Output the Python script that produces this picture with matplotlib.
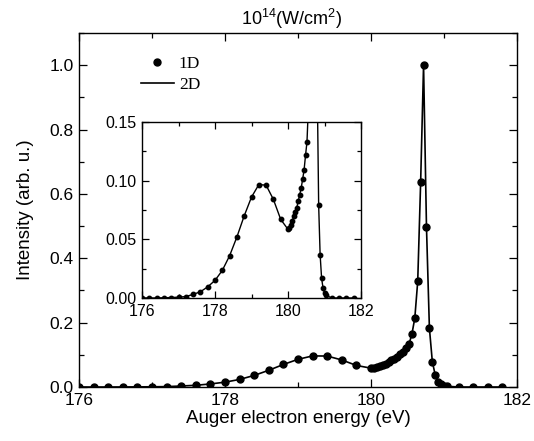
import matplotlib
matplotlib.use("Agg")
import matplotlib.pyplot as plt
from matplotlib.ticker import MultipleLocator

plt.rcParams["font.family"] = ["Liberation Sans", "DejaVu Sans"]
plt.rcParams["mathtext.fontset"] = "custom"
plt.rcParams["mathtext.rm"] = "Liberation Sans"
plt.rcParams["mathtext.it"] = "Liberation Sans:italic"

# Auger electron energies (eV)
energy = [
    176.0, 176.2, 176.4, 176.6, 176.8, 177.0, 177.2, 177.4, 177.6, 177.8,
    178.0, 178.2, 178.4, 178.6, 178.8, 179.0, 179.2, 179.4, 179.6, 179.8,
    180.00, 180.04, 180.08, 180.12, 180.16, 180.20, 180.24, 180.28, 180.32,
    180.36, 180.40, 180.44, 180.48, 180.52, 180.56, 180.60, 180.64, 180.68,
    180.72, 180.76, 180.80, 180.84, 180.88, 180.92, 180.96, 181.00, 181.04,
    181.2, 181.4, 181.6, 181.8,
]

# normalised intensity, 1D model
intensity_1d = [
    0.0, 0.0, 0.0, 0.0002, 0.0004, 0.0007, 0.0012, 0.0031, 0.0053, 0.0095,
    0.0150, 0.0235, 0.0360, 0.0520, 0.0700, 0.0860, 0.0966, 0.0962, 0.0840, 0.0670,
    0.0585, 0.0600, 0.0625, 0.0660, 0.0695, 0.0730, 0.0770, 0.0825, 0.0880,
    0.0935, 0.1010, 0.1090, 0.1215, 0.1330, 0.1640, 0.2140, 0.3280, 0.6360,
    1.0000, 0.4970, 0.1830, 0.0790, 0.0370, 0.0170, 0.0085, 0.0045, 0.0023,
    0.0, 0.0, 0.0, 0.0,
]

# normalised intensity, 2D model
intensity_2d = list(intensity_1d)

label_1d = "1D"
label_2d = "2D"
title = r"10$^{14}$(W/cm$^{2}$)"
xlabel = "Auger electron energy (eV)"
ylabel = "Intensity (arb. u.)"


def style_axes(ax, labelsize, major_len, minor_len):
    ax.tick_params(which="both", direction="in", top=True, right=True,
                   width=0.9, labelsize=labelsize, pad=4)
    ax.tick_params(which="major", length=major_len)
    ax.tick_params(which="minor", length=minor_len)
    for s in ax.spines.values():
        s.set_linewidth(1.0)


fig = plt.figure(figsize=(5.34, 4.41), dpi=100)

ax = fig.add_axes([79 / 534, 1 - 387 / 441, 438 / 534, 354 / 441])
ax.plot(energy, intensity_2d, "-", color="black", lw=1.2, label=label_2d, zorder=2)
ax.plot(energy, intensity_1d, "o", color="black", ms=5.0, label=label_1d, zorder=3)
ax.set_xlim(176, 182)
ax.set_ylim(0, 1.1)
ax.xaxis.set_major_locator(MultipleLocator(2))
ax.xaxis.set_minor_locator(MultipleLocator(1))
ax.yaxis.set_major_locator(MultipleLocator(0.2))
ax.yaxis.set_minor_locator(MultipleLocator(0.1))
ax.yaxis.set_major_formatter(plt.FormatStrFormatter("%.1f"))
style_axes(ax, 12.5, 6, 3.5)
ax.set_xlabel(xlabel, fontsize=13.5, labelpad=2)
ax.set_ylabel(ylabel, fontsize=13.5, labelpad=11)
ax.set_title(title, fontsize=13, pad=6, x=0.485)

handles, labels = ax.get_legend_handles_labels()
leg = ax.legend([handles[1], handles[0]], [labels[1], labels[0]],
                loc="upper left", bbox_to_anchor=(0.125, 0.955), frameon=False,
                prop={"family": "Liberation Serif", "size": 12.5},
                handlelength=1.9, handletextpad=0.3, labelspacing=0.3,
                borderaxespad=0)

inset = fig.add_axes([142 / 534, 1 - 298 / 441, 219 / 534, 176 / 441])
inset.plot(energy, intensity_2d, "-", color="black", lw=1.0, zorder=2)
inset.plot(energy, intensity_1d, "o", color="black", ms=3.2, zorder=3)
inset.set_xlim(176, 182)
inset.set_ylim(0, 0.15)
inset.xaxis.set_major_locator(MultipleLocator(2))
inset.xaxis.set_minor_locator(MultipleLocator(1))
inset.yaxis.set_major_locator(MultipleLocator(0.05))
inset.yaxis.set_minor_locator(MultipleLocator(0.025))
inset.yaxis.set_major_formatter(plt.FormatStrFormatter("%.2f"))
style_axes(inset, 11.5, 5, 3)

fig.savefig("out.png", dpi=100)
